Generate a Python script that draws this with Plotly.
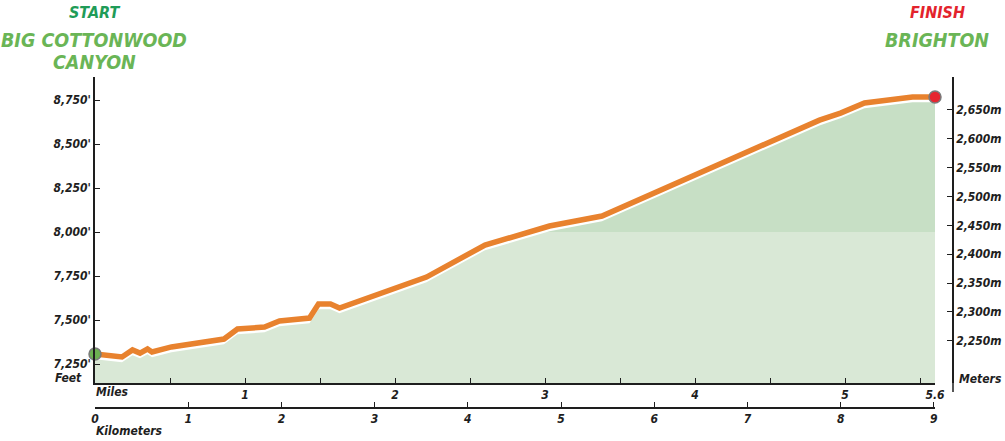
import numpy as np
import plotly.graph_objects as go

# ---------------- data ----------------
miles = [0.00, 0.18, 0.25, 0.30, 0.35, 0.38, 0.51, 0.86, 0.95, 1.13, 1.23, 1.43,
         1.49, 1.57, 1.63, 2.21, 2.60, 3.03, 3.38, 4.83, 4.97, 5.13, 5.45, 5.60]
elev_ft = [7307, 7290, 7330, 7312, 7335, 7318, 7347, 7392, 7449, 7460, 7494, 7511,
           7591, 7591, 7568, 7744, 7926, 8034, 8091, 8636, 8676, 8733, 8767, 8767]

ft_ticks = [7250, 7500, 7750, 8000, 8250, 8500, 8750]
ft_labels = ["7,250'", "7,500'", "7,750'", "8,000'", "8,250'", "8,500'", "8,750'"]
m_ticks = [2250, 2300, 2350, 2400, 2450, 2500, 2550, 2600, 2650]
m_labels = ["2,250m", "2,300m", "2,350m", "2,400m", "2,450m", "2,500m", "2,550m", "2,600m", "2,650m"]
mile_ticks = [0.5, 1, 1.5, 2, 2.5, 3, 3.5, 4, 4.5, 5, 5.5, 5.6]
mile_labels = ["", "1", "", "2", "", "3", "", "4", "", "5", "", "5.6"]
km_ticks = [0, 1, 2, 3, 4, 5, 6, 7, 8, 9]
km_labels = ["0", "1", "2", "3", "4", "5", "6", "7", "8", "9"]

start_name = ["START", "BIG COTTONWOOD", "CANYON"]
finish_name = ["FINISH", "BRIGHTON"]

# ---------------- layout helpers ----------------
W, H = 1005, 441
ML, MR, MT, MB = 95, 52, 77, 26
PW, PH = W - ML - MR, H - MT - MB


def px(x):
    return (x - ML) / PW


def py(y):
    return (H - MB - y) / PH


FONT = "DejaVu Sans Condensed, DejaVu Sans"
DARK = "#1e1e1e"
ORANGE = "#e8822e"
LIGHT_FILL = "#d9e8d6"
DARK_FILL = "#c7dfc5"
BAND_FT = 8000
Y_BOT, Y_TOP = 7142, 8881
GAP_FT = 30
FT2M = 0.3048
MI2KM = 1.609344

miles_a = np.array(miles)
elev_a = np.array(elev_ft, dtype=float)
x_end = miles[-1]

tickfont = dict(family=FONT, size=12, color=DARK, weight="bold", style="italic")

fig = go.Figure()

# white mask above the profile (hides the coloured bands above the curve)
fig.add_trace(go.Scatter(
    x=list(miles_a) + [x_end, miles[0]],
    y=list(elev_a - GAP_FT) + [Y_TOP, Y_TOP],
    fill="toself", fillcolor="white", mode="lines", line=dict(width=0),
    hoverinfo="skip", showlegend=False))

# orange profile line
fig.add_trace(go.Scatter(
    x=miles, y=elev_ft, mode="lines",
    line=dict(color=ORANGE, width=5.5),
    hoverinfo="skip", showlegend=False))

# start / finish markers
fig.add_trace(go.Scatter(
    x=[miles[0]], y=[elev_ft[0]], mode="markers",
    marker=dict(size=12, color="#6cb152", line=dict(color="#7a7a7a", width=1.5)),
    showlegend=False, hoverinfo="skip", cliponaxis=False))
fig.add_trace(go.Scatter(
    x=[miles[-1]], y=[elev_ft[-1]], mode="markers",
    marker=dict(size=12, color="#e6262f", line=dict(color="#7a7a7a", width=1.5)),
    showlegend=False, hoverinfo="skip", cliponaxis=False))

# invisible trace for the metric axes
fig.add_trace(go.Scatter(
    x=list(miles_a * MI2KM), y=list(elev_a * FT2M), xaxis="x2", yaxis="y2",
    mode="lines", line=dict(width=0), opacity=0, hoverinfo="skip", showlegend=False))

x_dom = [0, px(935)]
y_dom = [py(383), 1]

fig.update_layout(
    width=W, height=H,
    margin=dict(l=ML, r=MR, t=MT, b=MB, autoexpand=False),
    paper_bgcolor="white", plot_bgcolor="white",
    showlegend=False,
    xaxis=dict(domain=x_dom, range=[0, x_end], showgrid=False, zeroline=False,
               showline=True, linecolor=DARK, linewidth=1.5,
               ticks="inside", ticklen=5, tickwidth=1.2, tickcolor=DARK,
               tickvals=mile_ticks, ticktext=mile_labels, tickfont=tickfont,
               anchor="y"),
    xaxis2=dict(overlaying="x", range=[0, x_end * MI2KM], anchor="free",
                position=py(408), side="bottom", showgrid=False, zeroline=False,
                showline=True, linecolor=DARK, linewidth=1.5,
                ticks="inside", ticklen=5, tickwidth=1.2, tickcolor=DARK,
                tickvals=km_ticks, ticktext=km_labels, tickfont=tickfont),
    yaxis=dict(domain=y_dom, range=[Y_BOT, Y_TOP], showgrid=False, zeroline=False,
               showline=True, linecolor=DARK, linewidth=1.5,
               ticks="inside", ticklen=5, tickwidth=1.2, tickcolor=DARK,
               tickvals=ft_ticks, ticktext=ft_labels, tickfont=tickfont,
               anchor="x"),
    yaxis2=dict(overlaying="y", side="right", anchor="free", position=1,
                range=[Y_BOT * FT2M, Y_TOP * FT2M], showgrid=False, zeroline=False,
                showline=True, linecolor=DARK, linewidth=1.5,
                ticks="inside", ticklen=5, tickwidth=1.2, tickcolor=DARK,
                tickvals=m_ticks, ticktext=m_labels, tickfont=tickfont),
    shapes=[
        dict(type="rect", xref="x", yref="y", x0=0, x1=x_end, y0=Y_BOT, y1=BAND_FT,
             fillcolor=LIGHT_FILL, line=dict(width=0), layer="below"),
        dict(type="rect", xref="x", yref="y", x0=0, x1=x_end, y0=BAND_FT, y1=Y_TOP,
             fillcolor=DARK_FILL, line=dict(width=0), layer="below"),
        dict(type="line", xref="paper", yref="paper", x0=1, x1=1,
             y0=py(383), y1=py(392), line=dict(color=DARK, width=1.5)),
    ],
)

ann_font = dict(family=FONT, size=12, color=DARK, weight="bold", style="italic")
annotations = [
    dict(text="Feet", x=px(84), y=py(378), xanchor="right"),
    dict(text="Meters", x=px(957), y=py(379), xanchor="left"),
    dict(text="Miles", x=px(94), y=py(392), xanchor="left"),
    dict(text="Kilometers", x=px(94), y=py(431), xanchor="left"),
]
for a in annotations:
    fig.add_annotation(xref="paper", yref="paper", yanchor="middle", showarrow=False,
                       font=ann_font, **a)

GREEN = "#6ab556"
title_specs = [
    (start_name[0], px(94), py(13), 16, "#1f9c58"),
    (start_name[1], px(94), py(41), 19.5, GREEN),
    (start_name[2], px(94), py(62), 19.5, GREEN),
    (finish_name[0], px(937), py(13), 16, "#e3232c"),
    (finish_name[1], px(937), py(41), 19.5, GREEN),
]
for txt, xx, yy, sz, col in title_specs:
    fig.add_annotation(text=txt, xref="paper", yref="paper", x=xx, y=yy,
                       xanchor="center", yanchor="middle", showarrow=False,
                       font=dict(family=FONT, size=sz, color=col, weight="bold",
                                 style="italic"))

fig.write_html("out.html", config={"displayModeBar": False},
               post_script="document.body.style.margin='0';")
